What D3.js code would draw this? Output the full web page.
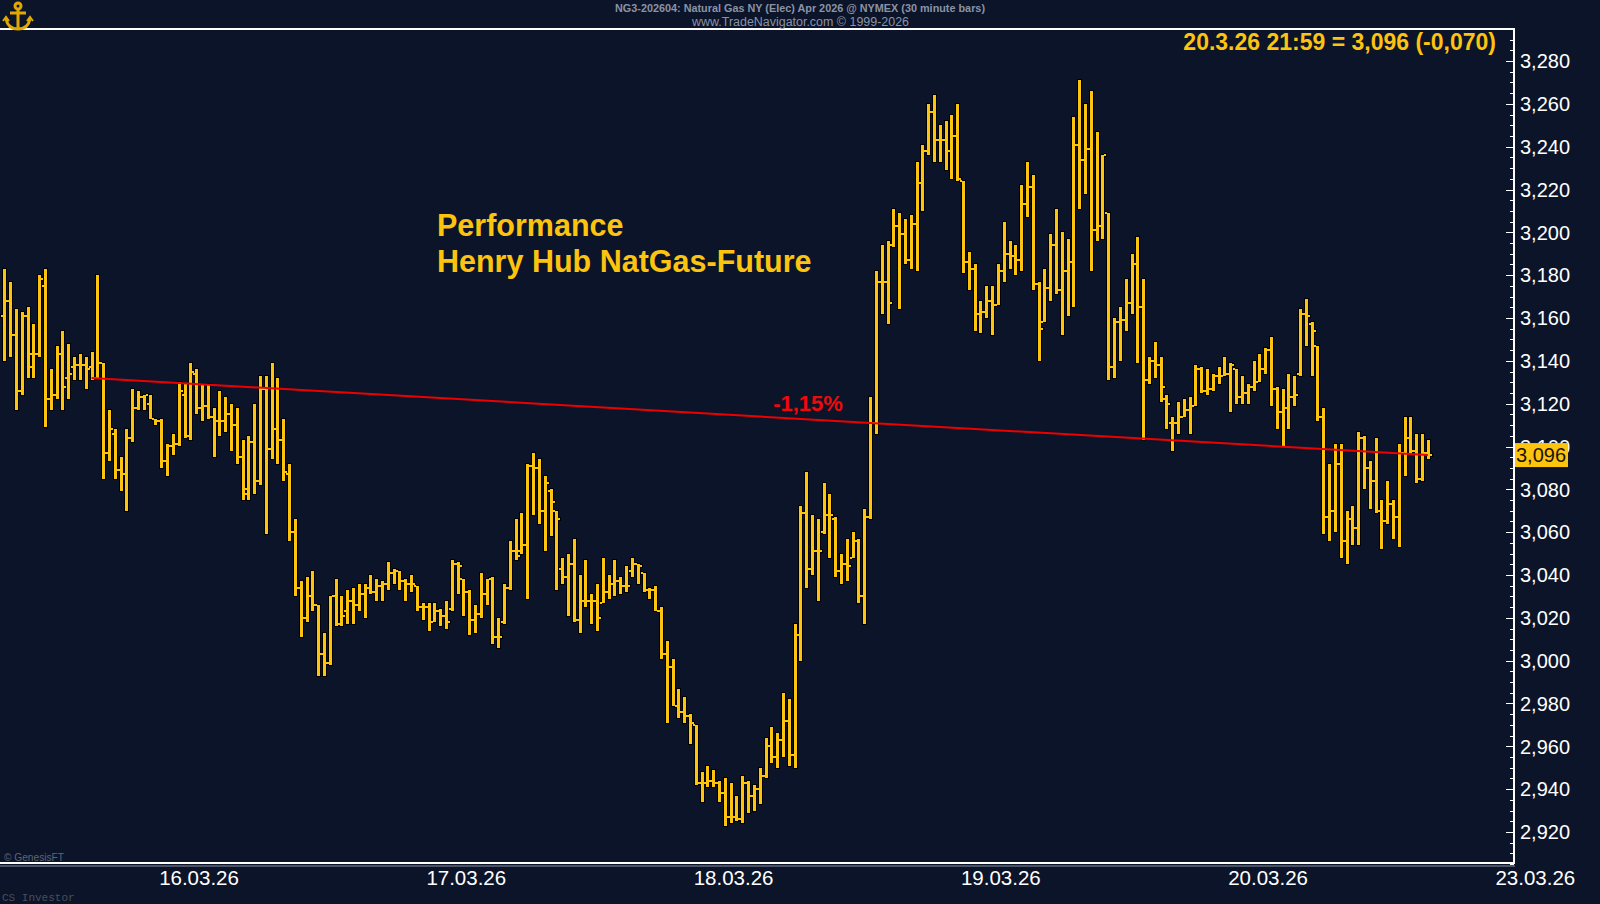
<!DOCTYPE html>
<html>
<head>
<meta charset="utf-8">
<script src="https://cdn.jsdelivr.net/npm/d3@7"></script>
<style>
  html, body { margin: 0; padding: 0; background: #0c1429; }
  svg { display: block; }
  text { font-family: "Liberation Sans", Arial, sans-serif; }
</style>
</head>
<body>
<svg id="chart" width="1600" height="904"></svg>
<script>
// NG3-202604, 30 minute bars, 13.03.26 evening .. 20.03.26 21:59
const opens = [
  3.161,3.168,3.152,3.126,3.161,3.143,3.143,3.175,3.122,3.124,3.143,3.132,3.137,3.138,3.138,3.137,
  3.132,3.139,3.097,3.106,3.089,3.087,3.104,3.118,3.123,3.120,3.113,3.112,3.093,3.100,3.101,3.124,
  3.105,3.134,3.118,3.119,3.114,3.112,3.112,3.115,3.110,3.095,3.080,3.102,3.084,3.127,3.099,3.108,
  3.103,3.087,3.060,3.034,3.020,3.030,3.026,3.003,2.999,3.030,3.017,3.023,3.028,3.026,3.031,3.034,
  3.032,3.035,3.036,3.041,3.042,3.037,3.036,3.035,3.025,3.025,3.018,3.023,3.021,3.024,3.045,3.038,
  3.032,3.019,3.022,3.031,3.038,3.011,3.018,3.034,3.051,3.051,3.054,3.091,3.090,3.070,3.079,3.070,
  3.043,3.039,3.045,3.019,3.028,3.028,3.028,3.027,3.032,3.036,3.037,3.035,3.042,3.045,3.041,3.033,
  3.033,3.023,3.003,2.997,2.979,2.976,2.974,2.970,2.943,2.943,2.944,2.943,2.938,2.927,2.927,2.926,
  2.943,2.937,2.940,2.946,2.960,2.955,2.963,2.972,2.956,3.012,3.069,3.043,3.051,3.060,3.068,3.066,
  3.042,3.045,3.048,3.056,3.030,3.067,3.111,3.177,3.177,3.194,3.203,3.199,3.187,3.204,3.223,3.238,
  3.256,3.243,3.243,3.238,3.245,3.224,3.186,3.183,3.162,3.163,3.168,3.166,3.182,3.190,3.189,3.187,
  3.213,3.221,3.176,3.158,3.174,3.194,3.173,3.182,3.186,3.241,3.234,3.239,3.201,3.203,3.209,3.137,
  3.158,3.159,3.167,3.185,3.165,3.131,3.140,3.138,3.122,3.111,3.111,3.114,3.117,3.119,3.136,3.126,
  3.127,3.133,3.133,3.134,3.136,3.123,3.125,3.128,3.130,3.136,3.145,3.127,3.116,3.118,3.123,3.134,
  3.162,3.157,3.147,3.114,3.067,3.070,3.092,3.056,3.066,3.062,3.104,3.090,3.084,3.070,3.065,3.073,
  3.067,3.097,3.104,3.098,3.085,3.097
];
const highs = [
  3.183,3.177,3.164,3.163,3.165,3.157,3.180,3.183,3.136,3.147,3.154,3.148,3.142,3.143,3.142,3.144,
  3.180,3.139,3.117,3.108,3.095,3.108,3.127,3.126,3.124,3.124,3.113,3.113,3.101,3.106,3.130,3.129,
  3.139,3.136,3.129,3.129,3.118,3.126,3.123,3.120,3.118,3.103,3.105,3.120,3.133,3.133,3.139,3.132,
  3.113,3.092,3.066,3.037,3.039,3.042,3.026,3.013,3.030,3.038,3.030,3.033,3.034,3.036,3.036,3.040,
  3.038,3.037,3.046,3.043,3.042,3.038,3.040,3.035,3.027,3.027,3.027,3.024,3.028,3.047,3.046,3.038,
  3.033,3.026,3.041,3.038,3.039,3.020,3.036,3.056,3.066,3.069,3.092,3.097,3.094,3.086,3.080,3.070,
  3.048,3.050,3.057,3.040,3.047,3.031,3.036,3.048,3.040,3.047,3.039,3.044,3.048,3.045,3.041,3.034,
  3.035,3.025,3.009,3.001,2.987,2.983,2.975,2.970,2.948,2.951,2.949,2.944,2.945,2.943,2.937,2.946,
  2.944,2.942,2.950,2.964,2.969,2.966,2.985,2.982,3.017,3.072,3.088,3.068,3.066,3.083,3.078,3.067,
  3.050,3.057,3.060,3.057,3.071,3.123,3.182,3.194,3.196,3.211,3.209,3.206,3.208,3.233,3.241,3.260,
  3.264,3.250,3.252,3.255,3.260,3.224,3.191,3.185,3.168,3.175,3.175,3.185,3.205,3.196,3.194,3.222,
  3.233,3.227,3.177,3.183,3.199,3.211,3.200,3.197,3.254,3.271,3.260,3.266,3.247,3.236,3.209,3.160,
  3.165,3.178,3.190,3.198,3.178,3.142,3.149,3.142,3.124,3.114,3.121,3.122,3.123,3.138,3.137,3.136,
  3.134,3.137,3.142,3.139,3.136,3.133,3.129,3.140,3.143,3.146,3.151,3.128,3.127,3.134,3.133,3.164,
  3.169,3.158,3.147,3.118,3.092,3.101,3.101,3.070,3.072,3.107,3.105,3.093,3.104,3.075,3.084,3.075,
  3.101,3.114,3.114,3.106,3.106,3.103
];
const lows = [
  3.140,3.142,3.117,3.124,3.132,3.132,3.142,3.109,3.117,3.122,3.117,3.122,3.131,3.131,3.127,3.131,
  3.132,3.085,3.093,3.085,3.079,3.070,3.102,3.117,3.117,3.113,3.110,3.090,3.086,3.096,3.100,3.104,
  3.103,3.115,3.112,3.113,3.095,3.105,3.107,3.098,3.092,3.075,3.075,3.078,3.082,3.059,3.094,3.092,
  3.084,3.056,3.030,3.011,3.018,3.023,2.993,2.993,2.998,3.016,3.016,3.017,3.017,3.023,3.020,3.031,
  3.028,3.028,3.033,3.036,3.033,3.028,3.032,3.023,3.019,3.014,3.018,3.016,3.015,3.023,3.031,3.021,
  3.012,3.013,3.020,3.026,3.008,3.006,3.017,3.033,3.047,3.050,3.029,3.068,3.064,3.051,3.058,3.033,
  3.036,3.021,3.018,3.013,3.025,3.017,3.014,3.027,3.029,3.030,3.031,3.032,3.039,3.036,3.032,3.029,
  3.023,3.001,2.971,2.979,2.973,2.971,2.961,2.942,2.934,2.941,2.941,2.934,2.923,2.924,2.925,2.924,
  2.929,2.930,2.933,2.945,2.952,2.950,2.955,2.951,2.950,3.000,3.034,3.040,3.028,3.059,3.048,3.039,
  3.036,3.037,3.048,3.027,3.017,3.066,3.106,3.162,3.157,3.193,3.164,3.185,3.183,3.182,3.210,3.236,
  3.233,3.233,3.229,3.225,3.224,3.181,3.173,3.154,3.153,3.160,3.152,3.166,3.177,3.183,3.180,3.182,
  3.207,3.173,3.140,3.158,3.168,3.171,3.152,3.161,3.165,3.211,3.218,3.182,3.196,3.197,3.131,3.132,
  3.140,3.154,3.162,3.139,3.103,3.129,3.132,3.121,3.108,3.098,3.106,3.114,3.106,3.119,3.125,3.124,
  3.126,3.129,3.133,3.116,3.120,3.120,3.120,3.126,3.130,3.134,3.119,3.108,3.100,3.108,3.119,3.133,
  3.147,3.133,3.112,3.059,3.056,3.060,3.048,3.045,3.054,3.054,3.080,3.071,3.069,3.052,3.064,3.057,
  3.053,3.086,3.097,3.083,3.084,3.094
];
const closes = [
  3.168,3.152,3.126,3.161,3.137,3.143,3.178,3.122,3.124,3.143,3.128,3.134,3.138,3.138,3.136,3.132,
  3.139,3.097,3.108,3.089,3.087,3.104,3.118,3.123,3.124,3.113,3.112,3.093,3.100,3.101,3.126,3.105,
  3.135,3.118,3.119,3.114,3.112,3.112,3.115,3.110,3.095,3.078,3.102,3.084,3.127,3.099,3.108,3.103,
  3.088,3.060,3.034,3.020,3.030,3.026,3.003,2.999,3.030,3.017,3.021,3.028,3.026,3.031,3.034,3.032,
  3.035,3.036,3.041,3.042,3.037,3.036,3.036,3.025,3.025,3.018,3.023,3.021,3.018,3.045,3.044,3.032,
  3.019,3.022,3.031,3.038,3.011,3.011,3.034,3.051,3.049,3.054,3.091,3.090,3.070,3.083,3.074,3.066,
  3.039,3.045,3.019,3.028,3.028,3.028,3.020,3.032,3.036,3.037,3.035,3.035,3.045,3.044,3.033,3.033,
  3.023,3.003,2.997,2.979,2.976,2.974,2.971,2.943,2.943,2.944,2.943,2.938,2.927,2.927,2.926,2.943,
  2.937,2.940,2.946,2.960,2.955,2.963,2.972,2.956,3.012,3.069,3.043,3.051,3.051,3.068,3.068,3.042,
  3.045,3.044,3.056,3.030,3.067,3.111,3.177,3.177,3.167,3.203,3.199,3.187,3.204,3.223,3.238,3.256,
  3.243,3.243,3.238,3.245,3.225,3.186,3.183,3.162,3.163,3.168,3.166,3.182,3.190,3.189,3.187,3.213,
  3.221,3.176,3.155,3.174,3.194,3.173,3.182,3.186,3.241,3.234,3.239,3.201,3.203,3.236,3.137,3.158,
  3.159,3.167,3.185,3.165,3.131,3.140,3.138,3.128,3.120,3.111,3.114,3.117,3.119,3.136,3.126,3.127,
  3.133,3.133,3.134,3.138,3.123,3.125,3.128,3.130,3.136,3.145,3.127,3.116,3.118,3.123,3.124,3.162,
  3.161,3.154,3.114,3.067,3.070,3.092,3.056,3.066,3.062,3.104,3.090,3.084,3.070,3.065,3.073,3.067,
  3.097,3.104,3.098,3.085,3.097,3.096
];

// sessions: label and index of the first bar of that day
const dayLabels = ['16.03.26', '17.03.26', '18.03.26', '19.03.26', '20.03.26', '23.03.26'];
const dayFirstBar = [34, 80, 126, 172, 218, 264];

const priceTicks = [2.92, 2.94, 2.96, 2.98, 3.00, 3.02, 3.04, 3.06, 3.08, 3.10,
                    3.12, 3.14, 3.16, 3.18, 3.20, 3.22, 3.24, 3.26, 3.28];
const prevClose = 3.166;   // last close minus change (-0,070)
const perfStart = 15;      // bar where the performance line starts
const lastStamp = '20.3.26 21:59';

const gold = '#fcc30f';
const W = 1600, H = 904;
const plot = { left: 0, right: 1514, top: 29, bottom: 863 };

const svg = d3.select('#chart');
svg.append('rect').attr('width', W).attr('height', H).attr('fill', '#0c1429');

// german style numbers, plain hyphen for the minus
const de = d3.formatLocale({ decimal: ',', thousands: '.', grouping: [3], currency: ['', ' €'], minus: '-' });
const fmt = de.format('.3f');
const fmtPct = de.format('.2f');

const x = d3.scaleLinear().domain([0, 245]).range([4.4, 4.4 + 245 * 5.81]);
const y = d3.scaleLinear().domain([2.92, 3.28]).range([832, 61]);

const bars = opens.map((o, i) => ({ i, o, h: highs[i], l: lows[i], c: closes[i] }));

// frame
svg.append('line').attr('x1', 0).attr('x2', plot.right).attr('y1', plot.top).attr('y2', plot.top)
  .attr('stroke', '#ffffff').attr('stroke-width', 2);
svg.append('line').attr('x1', 0).attr('x2', plot.right + 1).attr('y1', plot.bottom).attr('y2', plot.bottom)
  .attr('stroke', '#ffffff').attr('stroke-width', 2);
svg.append('line').attr('x1', 0).attr('x2', plot.right + 1).attr('y1', plot.bottom + 3).attr('y2', plot.bottom + 3)
  .attr('stroke', '#8890a0').attr('stroke-width', 1);
svg.append('line').attr('x1', plot.right).attr('x2', plot.right).attr('y1', plot.top - 1).attr('y2', plot.bottom + 1)
  .attr('stroke', '#ffffff').attr('stroke-width', 2);

// y axis ticks (inside) and labels (outside)
const minor = d3.range(2.905, 3.2951, 0.005);
svg.append('g').selectAll('line').data(minor).join('line')
  .attr('x1', d => {
    const major = Math.abs(Math.round(d / 0.02) * 0.02 - d) < 1e-6;
    return plot.right - (major ? 8 : 4);
  })
  .attr('x2', plot.right)
  .attr('y1', d => Math.round(y(d)) + 0.5).attr('y2', d => Math.round(y(d)) + 0.5)
  .attr('stroke', '#ffffff').attr('stroke-width', 1);

svg.append('g').selectAll('text').data(priceTicks).join('text')
  .attr('x', 1520).attr('y', d => y(d)).attr('dy', '0.36em')
  .attr('fill', '#ffffff').attr('font-size', 20)
  .text(d => fmt(d));

// x axis labels
svg.append('g').selectAll('text').data(dayLabels).join('text')
  .attr('x', (d, k) => x(dayFirstBar[k] - 0.5)).attr('y', 885)
  .attr('text-anchor', 'middle').attr('fill', '#ffffff').attr('font-size', 20.5)
  .text(d => d);

// OHLC bars
const gOut = svg.append('g').attr('shape-rendering', 'crispEdges').attr('fill', '#000000');
const gBar = svg.append('g').attr('shape-rendering', 'crispEdges').attr('fill', gold);
bars.forEach(b => {
  const cx = Math.round(x(b.i));
  const yh = Math.round(y(b.h)), yl = Math.round(y(b.l));
  const yo = Math.round(y(b.o)), yc = Math.round(y(b.c));
  gOut.append('rect').attr('x', cx - 2).attr('y', yh - 1).attr('width', 5).attr('height', yl - yh + 2);
  gOut.append('rect').attr('x', cx - 4).attr('y', yo - 2).attr('width', 3).attr('height', 4);
  gOut.append('rect').attr('x', cx + 2).attr('y', yc - 2).attr('width', 3).attr('height', 4);
  gBar.append('rect').attr('x', cx - 1).attr('y', yh).attr('width', 3).attr('height', Math.max(1, yl - yh));
  gBar.append('rect').attr('x', cx - 3).attr('y', yo - 1).attr('width', 2).attr('height', 2);
  gBar.append('rect').attr('x', cx + 2).attr('y', yc - 1).attr('width', 2).attr('height', 2);
});

// performance line
const last = bars.length - 1;
const perf = (closes[last] / closes[perfStart] - 1) * 100;
const perfLine = d3.line().x(d => x(d.i)).y(d => y(d.c));
svg.append('path')
  .attr('d', perfLine([bars[perfStart], bars[last]]))
  .attr('fill', 'none').attr('stroke', '#ee0000').attr('stroke-width', 2);
svg.append('text')
  .attr('x', 808).attr('y', 411).attr('text-anchor', 'middle')
  .attr('fill', '#ee0a0a').attr('font-size', 22).attr('font-weight', 'bold')
  .text(fmtPct(perf) + '%');

// last value marker
const yLast = y(closes[last]);
svg.append('rect').attr('x', plot.right + 1).attr('y', yLast - 12).attr('width', 53).attr('height', 24)
  .attr('fill', gold);
svg.append('text').attr('x', plot.right + 2).attr('y', yLast).attr('dy', '0.36em')
  .attr('fill', '#1a1408').attr('font-size', 20).text(fmt(closes[last]));

// titles
svg.append('text').attr('x', 1496).attr('y', 50).attr('text-anchor', 'end')
  .attr('fill', gold).attr('font-size', 23).attr('font-weight', 'bold')
  .text(`${lastStamp} = ${fmt(closes[last])} (${fmt(closes[last] - prevClose)})`);

svg.append('text').attr('x', 437).attr('y', 236)
  .attr('fill', gold).attr('font-size', 30.5).attr('font-weight', 'bold')
  .text('Performance');
svg.append('text').attr('x', 437).attr('y', 272)
  .attr('fill', gold).attr('font-size', 30.5).attr('font-weight', 'bold')
  .text('Henry Hub NatGas-Future');

svg.append('text').attr('x', 615).attr('y', 12)
  .attr('fill', '#8a93a6').attr('font-size', 11).attr('font-weight', 'bold')
  .attr('textLength', 370).attr('lengthAdjust', 'spacingAndGlyphs')
  .text('NG3-202604:  Natural Gas NY (Elec) Apr 2026 @ NYMEX  (30 minute bars)');
svg.append('text').attr('x', 692).attr('y', 26)
  .attr('fill', '#8a93a6').attr('font-size', 12)
  .attr('textLength', 217).attr('lengthAdjust', 'spacingAndGlyphs')
  .text('www.TradeNavigator.com \u00a9 1999-2026');

svg.append('text').attr('x', 4).attr('y', 861)
  .attr('fill', '#5d6577').attr('font-size', 10)
  .attr('textLength', 60).attr('lengthAdjust', 'spacingAndGlyphs')
  .text('\u00a9 GenesisFT');
svg.append('text').attr('x', 2).attr('y', 901)
  .attr('fill', '#4a4f5a').attr('font-size', 11)
  .style('font-family', '"Liberation Mono", "DejaVu Sans Mono", monospace')
  .text('CS Investor');

// anchor logo
const logo = svg.append('g').attr('fill', 'none').attr('stroke', '#e0a800').attr('stroke-width', 3);
logo.append('circle').attr('cx', 18).attr('cy', 6).attr('r', 3);
logo.append('path').attr('d', 'M18,9 V28');
logo.append('path').attr('d', 'M10,13 H26');
logo.append('path').attr('d', 'M6,19 Q8,29 18,29 Q28,29 30,19');
logo.append('path').attr('d', 'M3,21 L6,17 L9,21 M27,21 L30,17 L33,21').attr('stroke-width', 2);
</script>
</body>
</html>
